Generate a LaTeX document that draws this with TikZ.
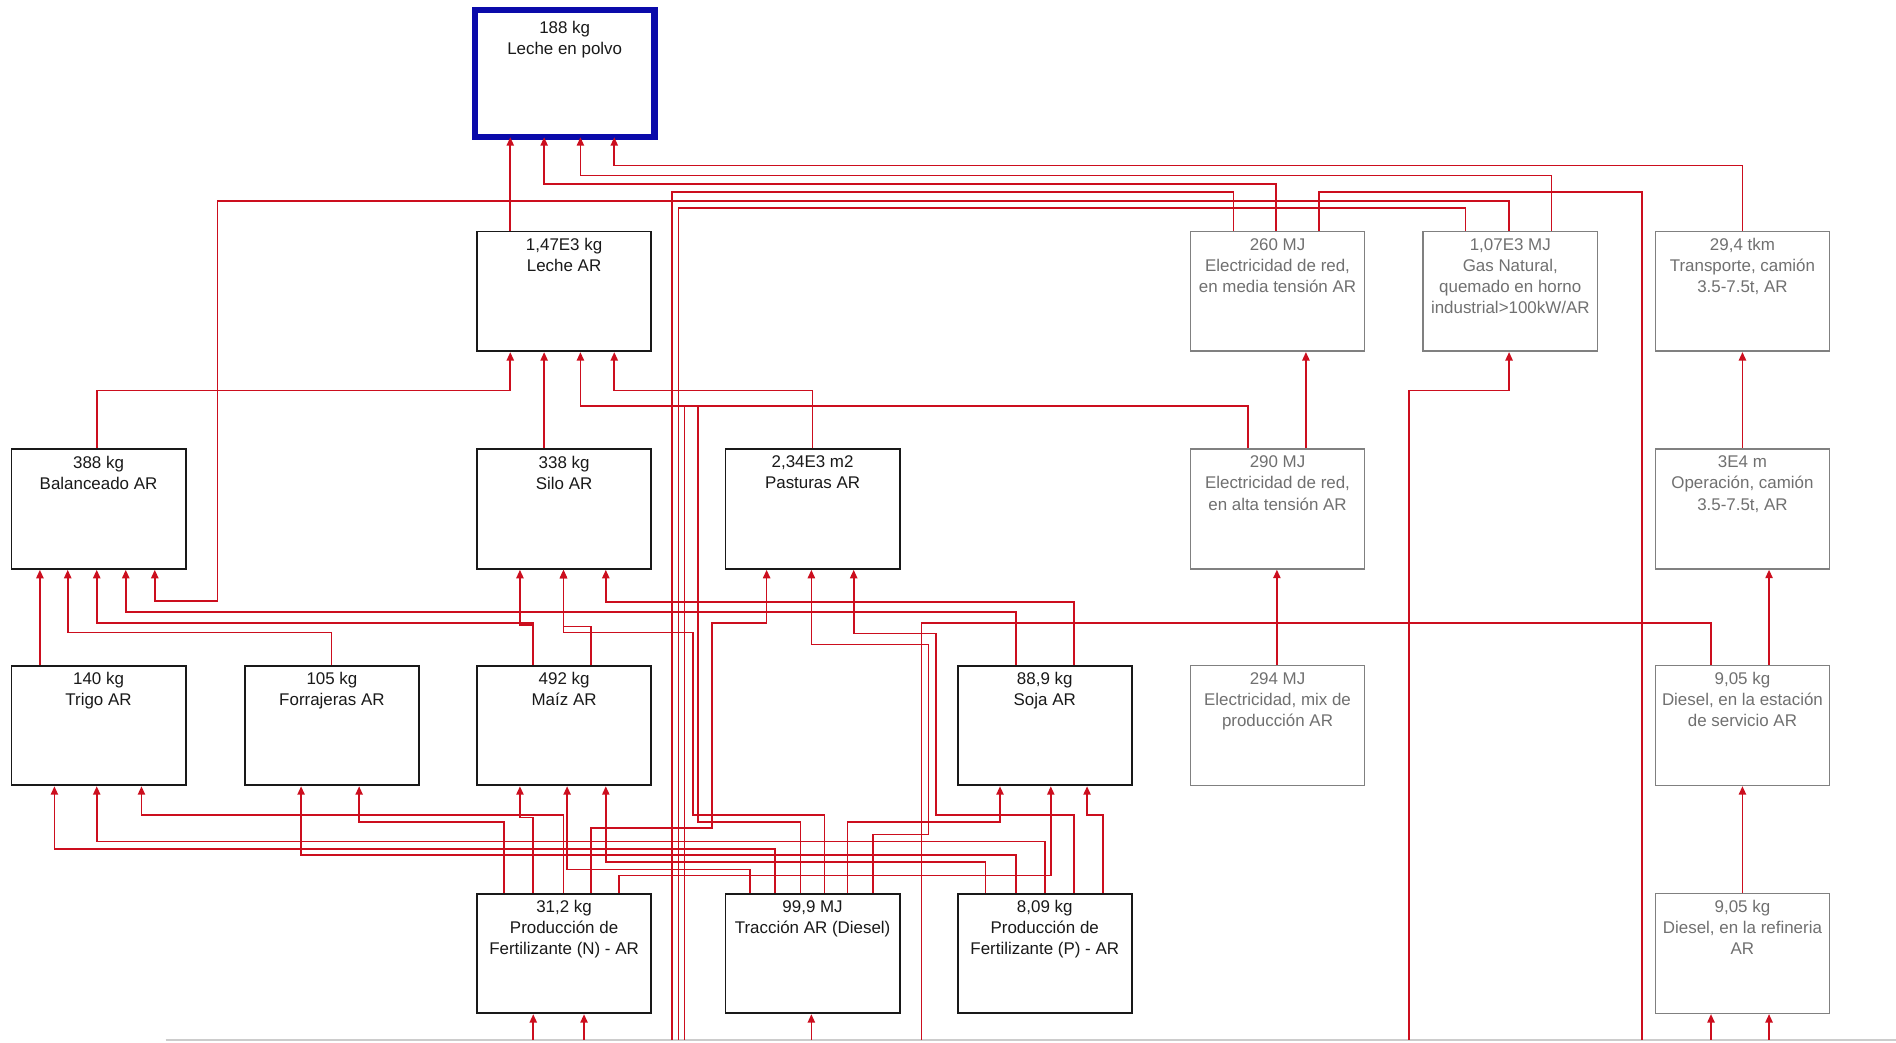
\documentclass[tikz,border=0pt]{standalone}
\usepackage{fontspec}
\setmainfont{Liberation Sans}
\usetikzlibrary{arrows.meta}
\definecolor{lnred}{RGB}{204,14,30}
\definecolor{boxgray}{RGB}{128,128,128}
\definecolor{txtgray}{RGB}{112,112,112}
\definecolor{lpblue}{RGB}{10,10,170}
\newcommand\lnk[5]{\draw[conn] (#2,0 |- #1.north) -- (#2,#3) -- (#4,#3) -- (#4,0 |- #5.south);}
\newcommand\strlnk[3]{\draw[conn] (#2,0 |- #1.north) -- (#2,0 |- #3.south);}
\begin{document}
\begin{tikzpicture}[x=1pt,y=-1pt,
  box/.style={draw=black!90, line width=1.5pt, fill=white, minimum width=144pt, minimum height=99pt, inner sep=0pt},
  gbox/.style={box, draw=boxgray, line width=1.3pt},
  txt/.style={anchor=north, align=center, inner sep=0pt, font=\fontsize{14}{17.5}\selectfont, text=black!90},
  gtxt/.style={txt, text=txtgray},
  conn/.style={draw=lnred, line width=1.35pt, -{Triangle[length=7pt,width=6pt]}},
  wire/.style={draw=lnred, line width=1.35pt}]
\useasboundingbox (0,0) rectangle (1568,862);
\fill[white] (0,0) rectangle (1568,862);
\draw[black!20, line width=1.5pt] (137,860) -- (1568,860);

% boxes
\node[box, draw=lpblue, line width=5pt, outer sep=0pt, minimum width=148.5pt, minimum height=105pt] (lp) at (467,61) {};
\node[txt] (lpT) at ([yshift=-8.5pt]lp.north) {188 kg\\Leche en polvo};

\node[box] (lar) at (466.5,241) {};
\node[txt] (larT) at ([yshift=-6pt]lar.north) {1,47E3 kg\\Leche AR};
\node[gbox] (em) at (1056.5,241) {};
\node[gtxt] (emT) at ([yshift=-6pt]em.north) {260 MJ\\Electricidad de red,\\en media tensión AR};
\node[gbox] (gas) at (1249,241) {};
\node[gtxt] (gasT) at ([yshift=-6pt]gas.north) {1,07E3 MJ\\Gas Natural,\\quemado en horno\\industrial>100kW/AR};
\node[gbox] (tr) at (1441,241) {};
\node[gtxt] (trT) at ([yshift=-6pt]tr.north) {29,4 tkm\\Transporte, camión\\3.5-7.5t, AR};

\node[box] (bal) at (81.5,421) {};
\node[txt] (balT) at ([yshift=-6pt]bal.north) {388 kg\\Balanceado AR};
\node[box] (silo) at (466.5,421) {};
\node[txt] (siloT) at ([yshift=-6pt]silo.north) {338 kg\\Silo AR};
\node[box] (pas) at (672,421) {};
\node[txt] (pasT) at ([yshift=-6pt]pas.north) {2,34E3 m2\\Pasturas AR};
\node[gbox] (ea) at (1056.5,421) {};
\node[gtxt] (eaT) at ([yshift=-6pt]ea.north) {290 MJ\\Electricidad de red,\\en alta tensión AR};
\node[gbox] (op) at (1441,421) {};
\node[gtxt] (opT) at ([yshift=-6pt]op.north) {3E4 m\\Operación, camión\\3.5-7.5t, AR};

\node[box] (tri) at (81.5,600) {};
\node[txt] (triT) at ([yshift=-6pt]tri.north) {140 kg\\Trigo AR};
\node[box] (forr) at (274.5,600) {};
\node[txt] (forrT) at ([yshift=-6pt]forr.north) {105 kg\\Forrajeras AR};
\node[box] (maiz) at (466.5,600) {};
\node[txt] (maizT) at ([yshift=-6pt]maiz.north) {492 kg\\Maíz AR};
\node[box] (soja) at (864,600) {};
\node[txt] (sojaT) at ([yshift=-6pt]soja.north) {88,9 kg\\Soja AR};
\node[gbox] (emix) at (1056.5,600) {};
\node[gtxt] (emixT) at ([yshift=-6pt]emix.north) {294 MJ\\Electricidad, mix de\\producción AR};
\node[gbox] (des) at (1441,600) {};
\node[gtxt] (desT) at ([yshift=-6pt]des.north) {9,05 kg\\Diesel, en la estación\\de servicio AR};

\node[box] (fn) at (466.5,788.5) {};
\node[txt] (fnT) at ([yshift=-6pt]fn.north) {31,2 kg\\Producción de\\Fertilizante (N) - AR};
\node[box] (trac) at (672,788.5) {};
\node[txt] (tracT) at ([yshift=-6pt]trac.north) {99,9 MJ\\Tracción AR (Diesel)};
\node[box] (fp) at (864,788.5) {};
\node[txt] (fpT) at ([yshift=-6pt]fp.north) {8,09 kg\\Producción de\\Fertilizante (P) - AR};
\node[gbox] (dr) at (1441,788.5) {};
\node[gtxt] (drT) at ([yshift=-6pt]dr.north) {9,05 kg\\Diesel, en la refineria\\AR};

% free ends at the lower edge
\coordinate (e1) at (556,860);
\coordinate (e2) at (1358,860);
\coordinate (e3) at (561,860);
\coordinate (e4) at (566,860);
\coordinate (e5) at (762,860);
\coordinate (s1) at (1165,860);
\coordinate (s2) at (1415,860);
\coordinate (s3) at (1463,860);
\coordinate (s4) at (441,860);
\coordinate (s5) at (483,860);
\coordinate (s6) at (671,860);

% connectors, top part
\strlnk{lar}{422}{lp}
\lnk{em}{1055}{152}{450}{lp}
\lnk{gas}{1283}{145}{480}{lp}
\lnk{tr}{1441}{137}{508}{lp}
\draw[wire] (1020,0 |- em.north) -- (1020,159) -- (556,159) -- (e1);
\draw[wire] (1091,0 |- em.north) -- (1091,159) -- (1358,159) -- (e2);
\draw[conn] (1248,0 |- gas.north) -- (1248,166) -- (180,166) -- (180,497) -- (128,497) -- (128,0 |- bal.south);
\draw[wire] (1212,0 |- gas.north) -- (1212,172) -- (561,172) -- (e3);
\lnk{bal}{80}{323}{422}{lar}
\strlnk{silo}{450}{lar}
\draw[wire] (1032,0 |- ea.north) -- (1032,336) -- (566,336) -- (e4);
\lnk{pas}{672}{323}{508}{lar}
\strlnk{ea}{1080}{em}
\draw[conn] (s1) -- (1165,323) -- (1248,323) -- (1248,0 |- gas.south);
\strlnk{op}{1441}{tr}
\strlnk{emix}{1056}{ea}
\strlnk{des}{1463}{op}
\draw[wire] (1415,0 |- des.north) -- (1415,515) -- (762,515) -- (e5);
\strlnk{dr}{1441}{des}
\draw[conn] (s2) -- (1415,0 |- dr.south);
\draw[conn] (s3) -- (1463,0 |- dr.south);

% middle part
\strlnk{tri}{33}{bal}
\lnk{forr}{274}{523}{56}{bal}
\lnk{maiz}{441}{515}{80}{bal}
\lnk{soja}{840}{506}{104}{bal}
\lnk{maiz}{441}{517}{430}{silo}
\lnk{maiz}{489}{518}{466}{silo}
\lnk{soja}{888}{498}{501}{silo}
\draw[conn] (682,0 |- trac.north) -- (682,674) -- (573,674) -- (573,523) -- (466,523) -- (466,0 |- silo.south);
\draw[conn] (662,0 |- trac.north) -- (662,680) -- (577,680) -- (577,336) -- (480,336) -- (480,0 |- lar.south);
\draw[conn] (489,0 |- fn.north) -- (489,685) -- (589,685) -- (589,515) -- (634,515) -- (634,0 |- pas.south);
\draw[conn] (722,0 |- trac.north) -- (722,690) -- (768,690) -- (768,533) -- (671,533) -- (671,0 |- pas.south);
\draw[conn] (888,0 |- fp.north) -- (888,674) -- (774,674) -- (774,524) -- (706,524) -- (706,0 |- pas.south);

% lower part
\lnk{trac}{701}{680}{827}{soja}
\lnk{fn}{466}{674}{117}{tri}
\lnk{fn}{441}{676}{430}{maiz}
\lnk{fn}{417}{680}{297}{forr}
\lnk{fp}{864}{696}{80}{tri}
\lnk{trac}{641}{702}{45}{tri}
\lnk{fp}{840}{707}{249}{forr}
\lnk{fp}{815}{713}{501}{maiz}
\lnk{trac}{620}{719}{469}{maiz}
\lnk{fn}{512}{724}{869}{soja}
\lnk{fp}{912}{674}{899}{soja}
\draw[conn] (s4) -- (441,0 |- fn.south);
\draw[conn] (s5) -- (483,0 |- fn.south);
\draw[conn] (s6) -- (671,0 |- trac.south);
\end{tikzpicture}
\end{document}
